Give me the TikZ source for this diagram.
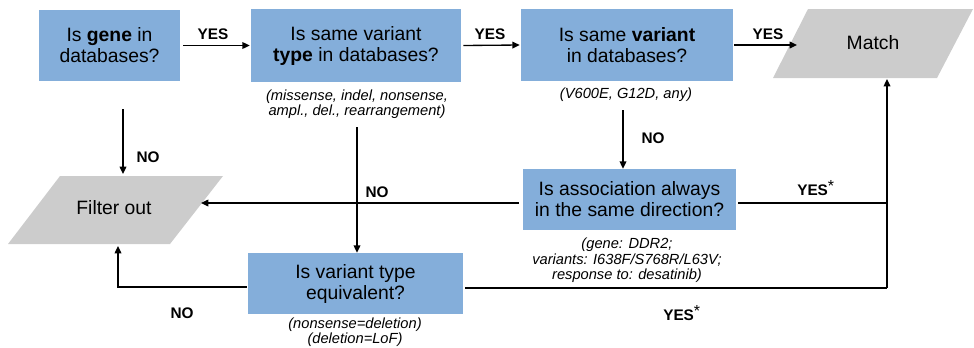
\documentclass[tikz,border=0pt]{standalone}
\usepackage{fontspec}
\setmainfont{Liberation Sans}
\usetikzlibrary{arrows.meta,calc}
\definecolor{boxblue}{RGB}{132,174,218}
\definecolor{outgray}{RGB}{204,204,204}
\begin{document}
\begin{tikzpicture}[x=0.75pt,y=-0.75pt,
  qbox/.style={fill=boxblue, draw=none, align=center, font=\fontsize{14.5}{15.75}\selectfont, inner sep=0pt},
  outtext/.style={align=center, font=\fontsize{14.5}{15.75}\selectfont, inner sep=0pt},
  outshape/.style={fill=outgray, draw=none},
  ann/.style={align=center, font=\fontsize{11}{11.6}\selectfont\itshape, inner sep=0pt},
  lbl/.style={font=\fontsize{11.5}{12}\selectfont\bfseries, inner sep=0pt},
  conn/.style={line width=1pt, draw=black},
  arr/.style={conn, -{Triangle[length=5.5pt,width=5pt]}}]
\useasboundingbox (0,0) rectangle (974,347);

% question boxes
\node[qbox, minimum width=105.75pt, minimum height=53.25pt] (gene) at (109.5,45.5) {Is \textbf{gene} in\\databases?};
\node[qbox, minimum width=157.5pt, minimum height=54.75pt] (vtype) at (356,45.5) {Is same variant\\\textbf{type} in databases?};
\node[qbox, minimum width=159pt, minimum height=54pt] (var) at (627,45) {Is same \textbf{variant}\\in databases?};
\node[qbox, minimum width=159.75pt, minimum height=45.75pt] (assoc) at (629.5,199.5) {Is association always\\in the same direction?};
\node[qbox, minimum width=161.25pt, minimum height=45.75pt] (equiv) at (355.5,283.5) {Is variant type\\equivalent?};

% outcome parallelograms
\path[outshape] (773,78) -- (808,9) -- (973,9) -- (937,78) -- cycle;
\node[outtext] (match) at (873,43) {Match};
\path[outshape] (8,244) -- (60,176) -- (223,176) -- (170,244) -- cycle;
\node[outtext] (filter) at (114,208) {Filter out};

% annotations
\node[ann] (ann2) at (357,104) {(missense, indel, nonsense,\\ampl., del., rearrangement)};
\node[ann] (ann3) at (626,94.5) {(V600E, G12D, any)};
\node[ann] (ann4) at (627,260.5) {(gene: DDR2;\\variants: I638F/S768R/L63V;\\response to: desatinib)};
\node[ann] (ann5) at (355,332) {(nonsense=deletion)\\(deletion=LoF)};

% connector points
\coordinate (matchin) at (797,45);
\coordinate (matchbot) at (887,79);
\coordinate (joinA) at (887,203);
\coordinate (joinB) at (887,288);
\coordinate (filtertop) at (123,174);
\coordinate (filterright) at (201,203);
\coordinate (filterbot) at (118,246);
\coordinate (geneout) at (123,109);
\coordinate (vtypeout) at (357,127);
\coordinate (varout) at (623,110);

% connectors
\draw[arr] ($(gene.east)+(3,0)$) -- ($(vtype.west)+(-1,0)$);
\draw[arr] ($(vtype.east)+(2,0)$) -- ($(var.west)+(-1,0)$);
\draw[arr] ($(var.east)+(1,0)$) -- (matchin);
\draw[arr] (geneout) -- (filtertop);
\draw[arr] (vtypeout) -- (vtypeout |- equiv.north);
\draw[arr] (varout) -- (varout |- assoc.north);
\draw[arr] ($(assoc.west)+(-4,3.5)$) -- (filterright);
\draw[conn] ($(assoc.east)+(2,3.5)$) -- (joinA);
\draw[arr] (joinB) -- (matchbot);
\draw[conn] ($(equiv.east)+(2,4.5)$) -- (joinB);
\draw[arr] ($(equiv.west)+(-1,3.5)$) -| (filterbot);

% labels
\node[lbl] (y1) at (213,34.5) {YES};
\node[lbl] (y2) at (490,34.5) {YES};
\node[lbl] (y3) at (768,34.5) {YES};
\node[lbl] (n1) at (148,157) {NO};
\node[lbl] (n2) at (653,138) {NO};
\node[lbl] (n3) at (377,192) {NO};
\node[lbl] (n4) at (182,313) {NO};
\node[lbl, anchor=west] (y4) at (797,188) {YES\raisebox{0.55ex}{\mdseries\fontsize{12}{12}\selectfont *}};
\node[lbl, anchor=west] (y5) at (663,313) {YES\raisebox{0.55ex}{\mdseries\fontsize{12}{12}\selectfont *}};
\end{tikzpicture}
\end{document}
